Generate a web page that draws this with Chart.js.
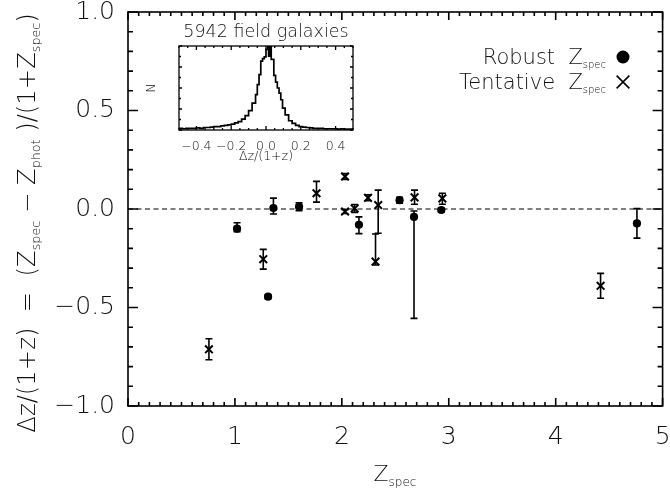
<!DOCTYPE html>
<html>
<head>
<meta charset="utf-8">
<script src="https://cdn.jsdelivr.net/npm/chart.js@4"></script>
<style>
  body { margin: 0; background: #fff; }
  #wrap { position: relative; width: 670px; height: 489px; }
  #main { position: absolute; left: 0; top: 0; }
  #inset { position: absolute; left: 140px; top: 20px; }
</style>
</head>
<body>
<div id="wrap">
  <canvas id="main" width="670" height="489"></canvas>
  <canvas id="inset" width="240" height="150"></canvas>
</div>
<script>
// robust spectroscopic redshifts (filled circles)
const robustZ  = [1.02, 1.31, 1.36, 1.60, 2.16, 2.54, 2.675, 2.93, 4.76];
const robustDz = [-0.10, -0.445, 0.005, 0.012, -0.08, 0.045, -0.04, -0.005, -0.073];
const robustLo = [0.015, 0.01, 0.03, 0.02, 0.045, 0.015, 0.515, 0.01, 0.075];
const robustHi = [0.03, 0.01, 0.05, 0.02, 0.04, 0.015, 0.03, 0.01, 0.075];

// tentative spectroscopic redshifts (crosses)
const tentZ  = [0.757, 1.265, 1.763, 2.03, 2.03, 2.12, 2.245, 2.34, 2.315, 2.68, 2.94, 4.42];
const tentDz = [-0.712, -0.255, 0.08, 0.165, -0.013, 0.003, 0.057, 0.02, -0.267, 0.059, 0.054, -0.39];
const tentLo = [0.053, 0.05, 0.045, 0.015, 0.01, 0.02, 0.015, 0.143, 0.017, 0.035, 0.03, 0.063];
const tentHi = [0.053, 0.05, 0.06, 0.015, 0.01, 0.02, 0.015, 0.076, 0.14, 0.037, 0.026, 0.063];

// tick labels
const xTicks = [0, 1, 2, 3, 4, 5];
const yTicks = [-1, -0.5, 0, 0.5, 1];
const insetTicks = [-0.4, -0.2, 0, 0.2, 0.4];

// inset histogram of the field galaxies (bin left edges, counts in arbitrary units)
const histEdges = [-0.50, -0.48, -0.46, -0.44, -0.42, -0.40, -0.38, -0.36, -0.34, -0.32,
  -0.30, -0.28, -0.26, -0.24, -0.22, -0.20, -0.18, -0.16, -0.14, -0.12, -0.10, -0.08,
  -0.06, -0.05, -0.04, -0.03, -0.02, -0.01, 0.00, 0.01, 0.015, 0.022, 0.03, 0.045,
  0.055, 0.065, 0.075, 0.085, 0.095, 0.11, 0.13, 0.15, 0.17, 0.19, 0.21, 0.23, 0.25,
  0.27, 0.29, 0.31, 0.33, 0.35, 0.37, 0.39, 0.41, 0.43, 0.45, 0.47, 0.50];
const histCounts = [1.5, 2, 1.5, 2, 2, 2, 2.5, 2, 3, 3,
  3.5, 4, 4, 5, 5.5, 6, 7, 8.5, 10, 13, 17, 23,
  32, 42, 54, 66, 82, 85, 87, 96, 130, 88, 130, 84,
  65, 57, 50, 44, 36, 26, 18, 11, 8, 5.5, 4, 3.5, 3,
  2.5, 2, 2, 2, 1.5, 1.5, 1.5, 1.5, 1, 1.5, 1, 1];

const FAM = '"DejaVu Sans", sans-serif';
const WEIGHT = 200;
const INK = '#111';

function fnt(size) { return WEIGHT + ' ' + size + 'px ' + FAM; }

function fmt(v) {
  if (Math.abs(v) < 1e-9) return '0.0';
  return (v < 0 ? '\u2212' : '') + Math.abs(v).toFixed(1);
}

function fixedTicks(list) {
  return s => { s.ticks = list.map(v => ({value: v})); };
}

// text with subscripts: parts = [[text, isSub], ...], y = baseline
function drawRich(ctx, parts, x, y, align, big, small, drop) {
  let w = 0;
  parts.forEach(([t, sub]) => { ctx.font = fnt(sub ? small : big); w += ctx.measureText(t).width; });
  let cx = align === 'center' ? x - w / 2 : align === 'right' ? x - w : x;
  ctx.textAlign = 'left';
  ctx.textBaseline = 'alphabetic';
  parts.forEach(([t, sub]) => {
    ctx.font = fnt(sub ? small : big);
    ctx.fillText(t, cx, sub ? y + drop : y);
    cx += ctx.measureText(t).width;
  });
}

// inward ticks on all four sides plus the box
const frameTicks = {
  id: 'frameTicks',
  afterDraw(chart, args, o) {
    const {ctx, chartArea: a, scales: {x, y}} = chart;
    ctx.save();
    ctx.strokeStyle = '#000';
    ctx.lineWidth = o.lineWidth;
    ctx.strokeRect(a.left, a.top, a.right - a.left, a.bottom - a.top);
    ctx.beginPath();
    const nx = Math.round((x.max - x.min) / o.xMinor);
    for (let i = 0; i <= nx; i++) {
      const v = x.min + i * o.xMinor;
      const r = v / o.xMajor;
      const len = Math.abs(r - Math.round(r)) < 1e-6 ? o.xMajorLen : o.xMinorLen;
      const px = x.getPixelForValue(v);
      ctx.moveTo(px, a.bottom); ctx.lineTo(px, a.bottom - len);
      ctx.moveTo(px, a.top); ctx.lineTo(px, a.top + len);
    }
    const ny = Math.round((y.max - y.min) / o.yMinor);
    for (let i = 0; i <= ny; i++) {
      const v = y.min + i * o.yMinor;
      const r = v / o.yMajor;
      const len = Math.abs(r - Math.round(r)) < 1e-6 ? o.yMajorLen : o.yMinorLen;
      const py = y.getPixelForValue(v);
      ctx.moveTo(a.left, py); ctx.lineTo(a.left + len, py);
      ctx.moveTo(a.right, py); ctx.lineTo(a.right - len, py);
    }
    ctx.stroke();
    ctx.restore();
  }
};

const errorBars = {
  id: 'errorBars',
  beforeDatasetsDraw(chart) {
    const {ctx, scales: {x, y}} = chart;
    ctx.save();
    ctx.strokeStyle = '#000';
    ctx.lineWidth = 1.6;
    chart.data.datasets.forEach(ds => {
      if (!ds.errLo) return;
      ds.data.forEach((p, i) => {
        const px = x.getPixelForValue(p.x);
        const top = y.getPixelForValue(p.y + ds.errHi[i]);
        const bot = y.getPixelForValue(p.y - ds.errLo[i]);
        ctx.beginPath();
        ctx.moveTo(px, top); ctx.lineTo(px, bot);
        ctx.moveTo(px - 3.5, top); ctx.lineTo(px + 3.5, top);
        ctx.moveTo(px - 3.5, bot); ctx.lineTo(px + 3.5, bot);
        ctx.stroke();
      });
    });
    ctx.restore();
  }
};

const mainText = {
  id: 'mainText',
  afterDraw(chart) {
    const ctx = chart.ctx;
    ctx.save();
    ctx.fillStyle = INK;
    // x title
    drawRich(ctx, [['Z', false], ['spec', true]], 395, 481, 'center', 22, 12, 5);
    // y title, rotated
    ctx.translate(35, 223);
    ctx.rotate(-Math.PI / 2);
    drawRich(ctx, [['\u0394z/(1+z)  =  (Z', false], ['spec', true], [' \u2212 Z', false],
      ['phot', true], [' )/(1+Z', false], ['spec', true], [')', false]], 0, 0, 'center', 24.3, 12.7, 5);
    ctx.restore();

    // legend
    ctx.save();
    ctx.fillStyle = INK;
    drawRich(ctx, [['Robust  Z', false], ['spec', true]], 606, 64, 'right', 21, 10, 4);
    drawRich(ctx, [['Tentative  Z', false], ['spec', true]], 606, 89, 'right', 21, 10, 4);
    ctx.fillStyle = '#000';
    ctx.strokeStyle = '#000';
    ctx.lineWidth = 1.6;
    Chart.helpers.drawPoint(ctx, {pointStyle: 'circle', radius: 6.5, borderWidth: 0}, 623, 57);
    Chart.helpers.drawPoint(ctx, {pointStyle: 'crossRot', radius: 9, borderWidth: 1.6}, 623, 82);
    ctx.restore();
  }
};

const robustPts = robustZ.map((z, i) => ({x: z, y: robustDz[i]}));
const tentPts = tentZ.map((z, i) => ({x: z, y: tentDz[i]}));

new Chart(document.getElementById('main'), {
  type: 'scatter',
  data: {
    datasets: [
      {
        type: 'line',
        data: [{x: 0, y: 0}, {x: 5, y: 0}],
        showLine: true,
        borderColor: '#000',
        borderWidth: 1.2,
        borderDash: [5, 3.5],
        pointRadius: 0
      },
      {
        label: 'Robust',
        data: robustPts,
        errLo: robustLo,
        errHi: robustHi,
        pointStyle: 'circle',
        pointRadius: 4.1,
        backgroundColor: '#000',
        borderColor: '#000',
        borderWidth: 0
      },
      {
        label: 'Tentative',
        data: tentPts,
        errLo: tentLo,
        errHi: tentHi,
        pointStyle: 'crossRot',
        pointRadius: 5.4,
        borderColor: '#000',
        borderWidth: 2
      }
    ]
  },
  options: {
    responsive: false,
    animation: false,
    layout: {padding: 0},
    scales: {
      x: {
        type: 'linear', min: 0, max: 5,
        afterBuildTicks: fixedTicks(xTicks),
        // fixed plot box: bottom axis band 83px, right margin 7px
        afterFit: s => { s.height = 83; s.paddingLeft = 0; s.paddingRight = 7; },
        grid: {display: false, drawTicks: false},
        border: {display: false},
        ticks: {padding: 16, maxRotation: 0, autoSkip: false, color: INK,
          font: {family: FAM, size: 25, weight: WEIGHT, lineHeight: 1.2}}
      },
      y: {
        min: -1, max: 1,
        afterBuildTicks: fixedTicks(yTicks),
        afterFit: s => { s.width = 128; s.paddingTop = 12; s.paddingBottom = 0; },
        grid: {display: false, drawTicks: false},
        border: {display: false},
        ticks: {padding: 13, autoSkip: false, color: INK,
          font: {family: FAM, size: 25, weight: WEIGHT},
          callback: v => fmt(v)}
      }
    },
    plugins: {
      legend: {display: false},
      tooltip: {enabled: false},
      frameTicks: {lineWidth: 1.6, xMinor: 0.1, xMajor: 1, xMinorLen: 4, xMajorLen: 8,
        yMinor: 0.1, yMajor: 0.5, yMinorLen: 5, yMajorLen: 10}
    }
  },
  plugins: [errorBars, frameTicks, mainText]
});

const insetText = {
  id: 'insetText',
  afterDraw(chart) {
    const {ctx, chartArea: a} = chart;
    ctx.save();
    ctx.fillStyle = INK;
    ctx.font = fnt(17.5);
    ctx.textAlign = 'center';
    ctx.textBaseline = 'middle';
    ctx.fillText('5942 field galaxies', (a.left + a.right) / 2, 12);
    ctx.font = fnt(12.5);
    ctx.fillText('\u0394z/(1+z)', (a.left + a.right) / 2, 137);
    ctx.translate(12, (a.top + a.bottom) / 2);
    ctx.rotate(-Math.PI / 2);
    ctx.fillText('N', 0, 0);
    ctx.restore();
  }
};

new Chart(document.getElementById('inset'), {
  type: 'line',
  data: {
    datasets: [{
      data: histEdges.map((e, i) => ({x: e, y: histCounts[i]})),
      stepped: 'after',
      borderColor: '#000',
      borderWidth: 1.7,
      pointRadius: 0,
      fill: false
    }]
  },
  options: {
    responsive: false,
    animation: false,
    layout: {padding: {top: 26, right: 27, left: 0, bottom: 0}},
    scales: {
      x: {
        type: 'linear', min: -0.5, max: 0.5,
        afterBuildTicks: fixedTicks(insetTicks),
        afterFit: s => { s.height = 40; },
        grid: {display: false, drawTicks: false},
        border: {display: false},
        ticks: {padding: 9, maxRotation: 0, autoSkip: false, color: INK,
          font: {family: FAM, size: 12.5, weight: WEIGHT}, callback: v => fmt(v)}
      },
      y: {
        min: 0, max: 100,
        afterFit: s => { s.width = 39; },
        grid: {display: false, drawTicks: false},
        border: {display: false},
        ticks: {display: false}
      }
    },
    plugins: {
      legend: {display: false},
      tooltip: {enabled: false},
      frameTicks: {lineWidth: 1.3, xMinor: 0.05, xMajor: 0.2, xMinorLen: 2, xMajorLen: 4,
        yMinor: 12.5, yMajor: 25, yMinorLen: 2, yMajorLen: 3}
    }
  },
  plugins: [frameTicks, insetText]
});
</script>
</body>
</html>
